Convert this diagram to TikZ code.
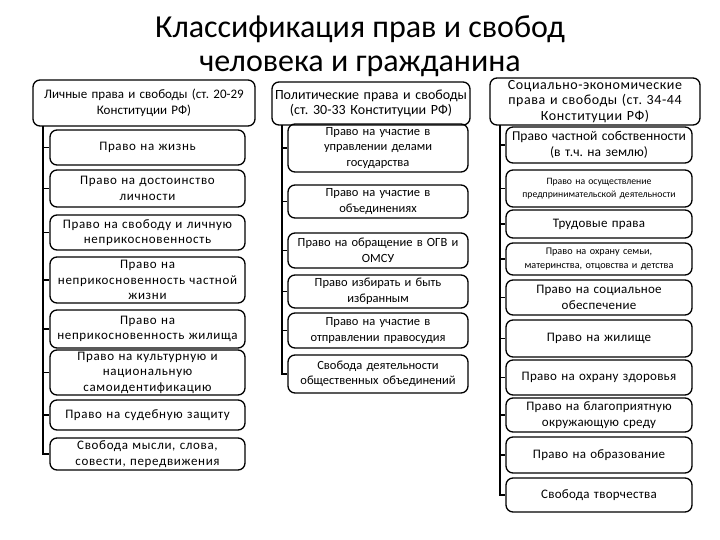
\documentclass[tikz,border=0pt]{standalone}
\usepackage{fontspec}
\setmainfont{Carlito}
\usetikzlibrary{positioning}
\frenchspacing

\tikzset{
  box/.style={draw, line width=1.3pt, rounded corners=7pt, align=center,
    inner sep=1pt, font=\fontsize{12.5}{15.5}\selectfont},
  lbox/.style={box, minimum width=195pt, text width=193pt, minimum height=#1,
    font=\fontsize{13}{15.5}\selectfont\addfontfeature{LetterSpace=5}},
  mbox/.style={box, minimum width=180pt, text width=178pt, minimum height=#1},
  rbox/.style={box, minimum width=186pt, text width=184pt, minimum height=#1,
    font=\fontsize{13}{15.5}\selectfont\addfontfeature{LetterSpace=2}},
  trunk/.style={line width=1.3pt},
}

\begin{document}
\begin{tikzpicture}[x=1pt,y=-1pt]
  \useasboundingbox (0,0) rectangle (720,540);
  \node[align=center, font=\fontsize{32}{34}\selectfont] (title) at (360,46)
    {Классификация прав и свобод\\человека и гражданина};

  % personal rights
  \node[box, minimum width=222pt, text width=220pt, minimum height=46pt,
    font=\fontsize{13}{15.5}\selectfont] (lh) at (144,103)
    {Личные права и свободы (ст. 20-29\\Конституции РФ)};
  \node[lbox=35pt] (l1) at (147.5,147.5) {Право на жизнь};
  \node[lbox=37pt] (l2) at (147.5,188.5) {Право на достоинство\\личности};
  \node[lbox=35pt] (l3) at (147.5,232.5) {Право на свободу и личную\\неприкосновенность};
  \node[lbox=46pt] (l4) at (147.5,280) {Право на\\неприкосновенность частной\\жизни};
  \node[lbox=38pt] (l5) at (147.5,329) {Право на\\неприкосновенность жилища};
  \node[lbox=45pt] (l6) at (147.5,372.5) {Право на культурную и\\национальную\\самоидентификацию};
  \node[lbox=30pt] (l7) at (147.5,415) {Право на судебную защиту};
  \node[lbox=32pt] (l8) at (147.5,454) {Свобода мысли, слова,\\совести, передвижения};
  \coordinate (lt) at (43,126);
  \draw[trunk] (lt) |- (l8.west);
  \foreach \n in {l1,l2,l3,l4,l5,l6,l7}
    \draw[trunk] (lt |- \n.west) -- (\n.west);

  % political rights
  \node[box, minimum width=198pt, text width=196pt, minimum height=43pt,
    font=\fontsize{14}{15.5}\selectfont] (mh) at (371,103.5)
    {Политические права и свободы\\(ст. 30-33 Конституции РФ)};
  \node[mbox=48pt] (m1) at (378,148) {Право на участие в\\управлении делами\\государства};
  \node[mbox=33pt] (m2) at (378,201.5) {Право на участие в\\объединениях};
  \node[mbox=35pt] (m3) at (378,250.5) {Право на обращение в ОГВ и\\ОМСУ};
  \node[mbox=33pt] (m4) at (378,291.5) {Право избирать и быть\\избранным};
  \node[mbox=35pt] (m5) at (378,330.5) {Право на участие в\\отправлении правосудия};
  \node[mbox=38pt] (m6) at (378,374) {Свобода деятельности\\общественных объединений};
  \coordinate (mt) at (282,125);
  \draw[trunk] (mt) |- (m6.west);
  \foreach \n in {m1,m2,m3,m4,m5}
    \draw[trunk] (mt |- \n.west) -- (\n.west);

  % social and economic rights
  \node[box, minimum width=210pt, text width=208pt, minimum height=47pt,
    font=\fontsize{14}{15.5}\selectfont\addfontfeature{LetterSpace=4}] (rh) at (595,101.5)
    {Социально-экономические\\права и свободы (ст. 34-44\\Конституции РФ)};
  \node[rbox=36pt, font=\fontsize{13.5}{16}\selectfont] (r1) at (599,145)
    {Право частной собственности\\(в т.ч. на землю)};
  \node[rbox=37pt, font=\fontsize{9.7}{13}\selectfont] (r2) at (599,188.5)
    {Право на осуществление\\предпринимательской деятельности};
  \node[rbox=28pt] (r3) at (599,224) {Трудовые права};
  \node[rbox=32pt, font=\fontsize{10.2}{14}\selectfont] (r4) at (599,259)
    {Право на охрану семьи,\\материнства, отцовства и детства};
  \node[rbox=35pt] (r5) at (599,297.5) {Право на социальное\\обеспечение};
  \node[rbox=37pt] (r6) at (599,338.5) {Право на жилище};
  \node[rbox=35pt] (r7) at (599,377.5) {Право на охрану здоровья};
  \node[rbox=34pt] (r8) at (599,415) {Право на благоприятную\\окружающую среду};
  \node[rbox=36pt] (r9) at (599,455) {Право на образование};
  \node[rbox=34pt] (r10) at (599,495) {Свобода творчества};
  \coordinate (rt) at (500,125);
  \draw[trunk] (rt) |- (r10.west);
  \foreach \n in {r1,r2,r3,r4,r5,r6,r7,r8,r9}
    \draw[trunk] (rt |- \n.west) -- (\n.west);
\end{tikzpicture}
\end{document}
